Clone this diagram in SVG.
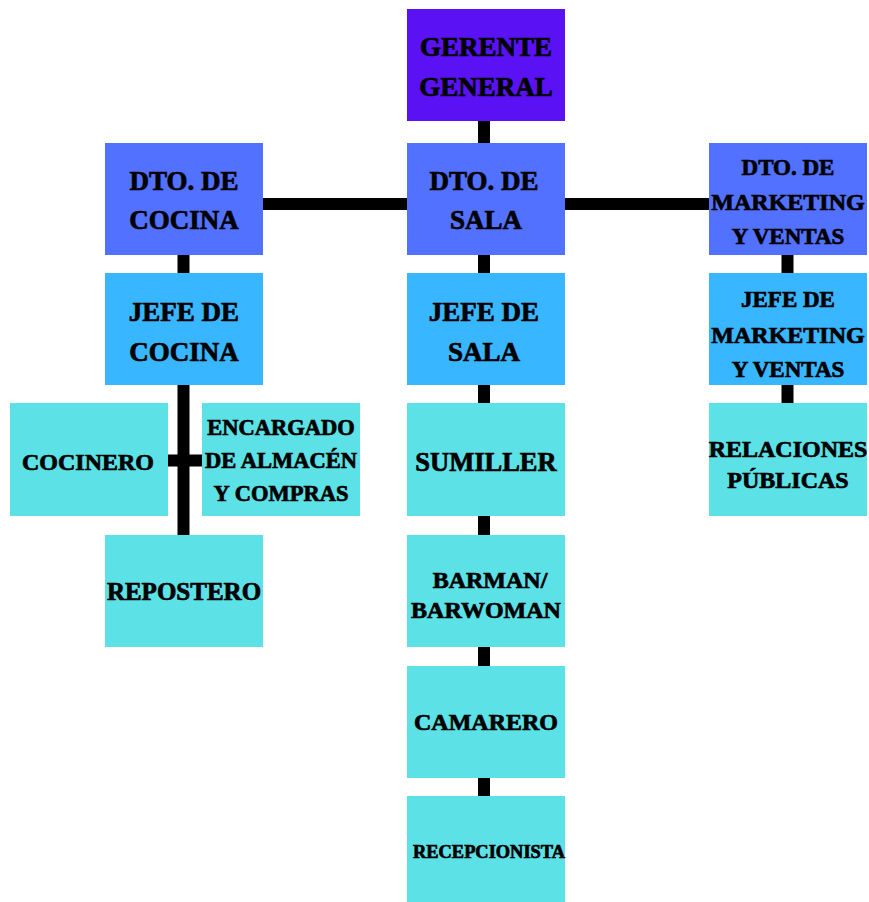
<svg xmlns="http://www.w3.org/2000/svg" width="869" height="902" viewBox="0 0 869 902">
<style>
.top{fill:#5a12f4}
.dto{fill:#5271ff}
.jefe{fill:#38b6ff}
.staff{fill:#5ce1e6}
text{font-family:"Liberation Serif","Times New Roman",serif;font-weight:bold;fill:#000;stroke:#000;stroke-width:0.7;text-anchor:middle}
.ln{stroke:#000;stroke-width:12;fill:none}
</style>
<rect width="869" height="902" fill="#fff"/>
<g id="connectors">
<line class="ln" x1="484" y1="121" x2="484" y2="800"/>
<line class="ln" x1="263" y1="204" x2="709" y2="204" stroke-width="14"/>
<line class="ln" x1="183.5" y1="255" x2="183.5" y2="535"/>
<line class="ln" x1="168" y1="460.5" x2="202" y2="460.5" stroke-width="14"/>
<line class="ln" x1="787.5" y1="255" x2="787.5" y2="403"/>
</g>
<g id="gerente"><rect class="top" x="407" y="9" width="158" height="112"/>
<text x="486" y="56" font-size="27">GERENTE</text><text x="486" y="96" font-size="27">GENERAL</text></g>
<g id="dto-cocina"><rect class="dto" x="105" y="143" width="158" height="112"/>
<text x="184" y="190" font-size="27">DTO. DE</text><text x="184" y="229" font-size="27">COCINA</text></g>
<g id="dto-sala"><rect class="dto" x="407" y="143" width="158" height="112"/>
<text x="484" y="190" font-size="27">DTO. DE</text><text x="486" y="229" font-size="27">SALA</text></g>
<g id="dto-marketing"><rect class="dto" x="709" y="143" width="158" height="112"/>
<text x="788" y="175" font-size="23">DTO. DE</text><text x="788" y="210" font-size="24">MARKETING</text><text x="788" y="244" font-size="23">Y VENTAS</text></g>
<g id="jefe-cocina"><rect class="jefe" x="105" y="273" width="158" height="112"/>
<text x="184" y="321" font-size="27">JEFE DE</text><text x="184" y="361" font-size="27">COCINA</text></g>
<g id="jefe-sala"><rect class="jefe" x="407" y="273" width="158" height="112"/>
<text x="484" y="321" font-size="27">JEFE DE</text><text x="484" y="361" font-size="27">SALA</text></g>
<g id="jefe-marketing"><rect class="jefe" x="709" y="273" width="158" height="112"/>
<text x="788" y="307" font-size="23">JEFE DE</text><text x="788" y="343" font-size="24">MARKETING</text><text x="788" y="377" font-size="23">Y VENTAS</text></g>
<g id="cocinero"><rect class="staff" x="10" y="403" width="158" height="113"/>
<text x="88" y="470" font-size="24">COCINERO</text></g>
<g id="encargado"><rect class="staff" x="202" y="403" width="158" height="113"/>
<text x="281" y="435" font-size="22.5">ENCARGADO</text><text x="281" y="468" font-size="22.5">DE ALMACÉN</text><text x="281" y="501" font-size="22.5">Y COMPRAS</text></g>
<g id="sumiller"><rect class="staff" x="407" y="403" width="158" height="113"/>
<text x="486" y="471" font-size="26.5">SUMILLER</text></g>
<g id="relaciones"><rect class="staff" x="709" y="403" width="158" height="113"/>
<text x="788" y="457" font-size="24">RELACIONES</text><text x="788" y="488" font-size="24">PÚBLICAS</text></g>
<g id="repostero"><rect class="staff" x="105" y="535" width="158" height="112"/>
<text x="184" y="600" font-size="25">REPOSTERO</text></g>
<g id="barman"><rect class="staff" x="407" y="535" width="158" height="112"/>
<text x="490" y="588" font-size="24">BARMAN/</text><text x="486" y="618" font-size="24">BARWOMAN</text></g>
<g id="camarero"><rect class="staff" x="407" y="666" width="158" height="112"/>
<text x="486" y="730" font-size="24">CAMARERO</text></g>
<g id="recepcionista"><rect class="staff" x="407" y="796" width="158" height="110"/>
<text x="489" y="858" font-size="18.4">RECEPCIONISTA</text></g>
</svg>
